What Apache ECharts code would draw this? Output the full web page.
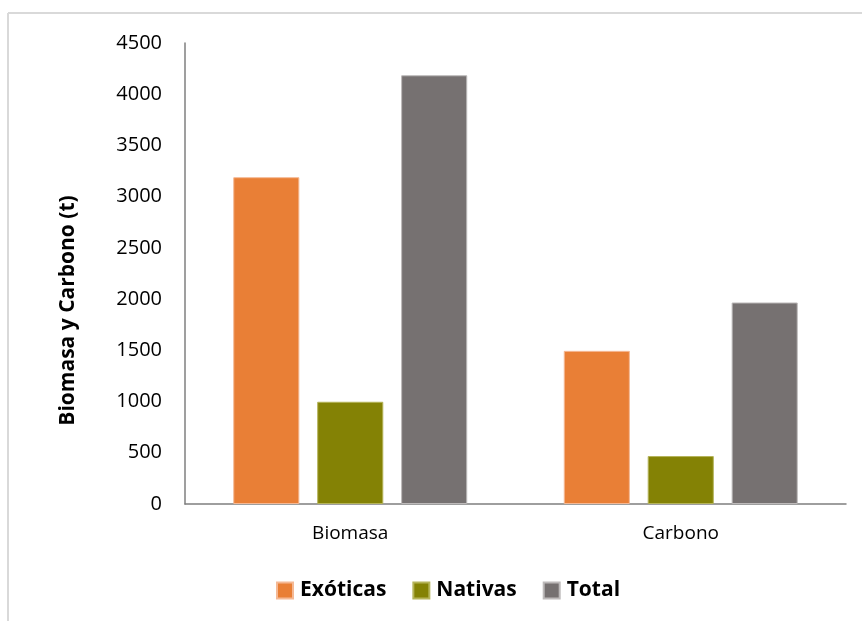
<!DOCTYPE html>
<html><head><meta charset="utf-8">
<script src="https://cdn.jsdelivr.net/npm/echarts@6/dist/echarts.min.js"></script>
<style>html,body{margin:0;padding:0;background:#fff}#c{width:862px;height:621px}</style>
</head><body><div id="c"></div>
<script>
const categories = ['Biomasa', 'Carbono'];
const exoticas = [3190, 1495];
const nativas = [998, 468];
const total = [4185, 1967];
const yTicks = [0, 500, 1000, 1500, 2000, 2500, 3000, 3500, 4000, 4500];

const font = '"Open Sans", "Noto Sans", sans-serif';
const chart = echarts.init(document.getElementById('c'));
chart.setOption({
  animation: false,
  graphic: [
    {type: 'line', shape: {x1: 8, y1: 13, x2: 862, y2: 13}, style: {stroke: '#d9d9d9', lineWidth: 2}},
    {type: 'line', shape: {x1: 8, y1: 13, x2: 8, y2: 621}, style: {stroke: '#d9d9d9', lineWidth: 2}}
  ],
  grid: {left: 185, right: 16, top: 43, bottom: 117},
  legend: {
    left: 276, top: 580, padding: 0, itemWidth: 16, itemHeight: 16, itemGap: 26,
    icon: 'rect',
    textStyle: {fontFamily: font, fontSize: 21, fontWeight: 'bold', color: '#000', padding: [0, 0, 0, 2]},
    data: ['Exóticas', 'Nativas', 'Total']
  },
  xAxis: {
    type: 'category', data: categories,
    axisLine: {lineStyle: {color: '#7f7f7f', width: 1.5}},
    axisTick: {show: false},
    axisLabel: {fontFamily: font, fontSize: 19, color: '#000', margin: 20}
  },
  yAxis: {
    type: 'value', min: yTicks[0], max: yTicks[yTicks.length - 1], interval: 500,
    name: 'Biomasa y Carbono (t)', nameLocation: 'middle', nameGap: 106,
    nameTextStyle: {fontFamily: font, fontSize: 21, fontWeight: 'bold', color: '#000', padding: [0, 74, 0, 0]},
    axisLine: {show: true, lineStyle: {color: '#7f7f7f', width: 1.5}},
    axisTick: {show: false},
    splitLine: {show: false},
    axisLabel: {fontFamily: font, fontSize: 20, color: '#000', margin: 23, formatter: v => String(v)}
  },
  series: [
    {name: 'Exóticas', type: 'bar', data: exoticas, barWidth: '20%', barGap: '27%',
     itemStyle: {color: '#E97F36', borderColor: '#f5b995', borderWidth: 1}},
    {name: 'Nativas', type: 'bar', data: nativas, barWidth: '20%', barGap: '27%',
     itemStyle: {color: '#848205', borderColor: '#b5b45a', borderWidth: 1}},
    {name: 'Total', type: 'bar', data: total, barWidth: '20%', barGap: '27%',
     itemStyle: {color: '#767171', borderColor: '#bdbaba', borderWidth: 1}}
  ]
});
</script></body></html>
